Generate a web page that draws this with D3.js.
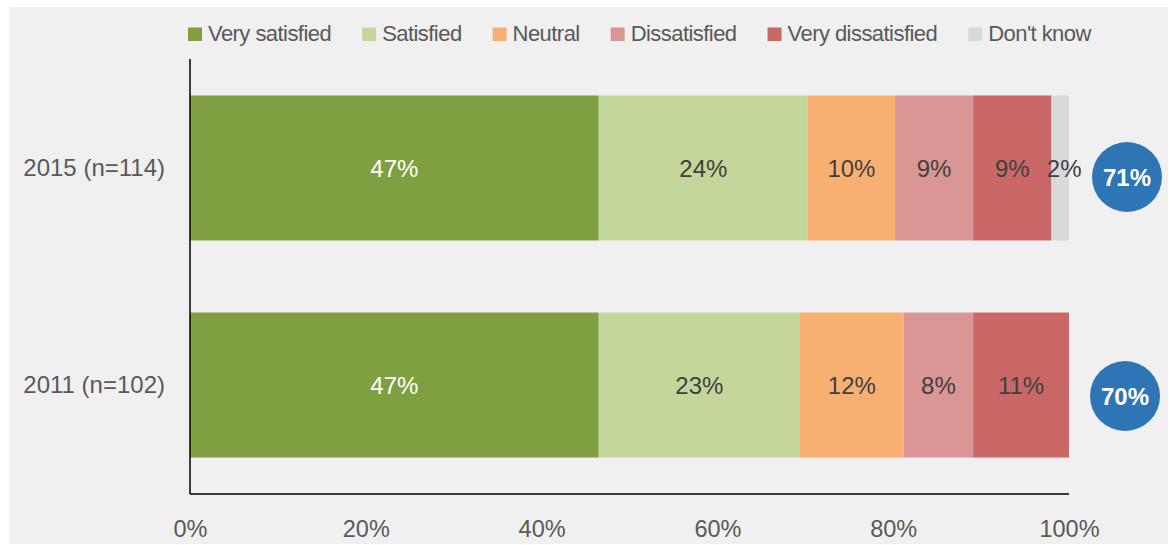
<!DOCTYPE html>
<html><head><meta charset="utf-8">
<script src="https://cdn.jsdelivr.net/npm/d3@7"></script>
<style>
html,body{margin:0;padding:0;background:#fff;}
svg{display:block;font-family:"Liberation Sans",Arial,sans-serif;}
</style></head>
<body><svg id="c" width="1169" height="545"></svg>
<script>
const categories = ["2015 (n=114)", "2011 (n=102)"];
const seriesNames = ["Very satisfied", "Satisfied", "Neutral", "Dissatisfied", "Very dissatisfied", "Don't know"];
const verySatisfied = [46.5, 46.5];
const satisfied = [23.8, 22.9];
const neutral = [9.9, 11.8];
const dissatisfied = [8.9, 7.9];
const veryDissatisfied = [8.9, 10.9];
const dontKnow = [2.0, 0];
const totalSatisfied = ["71%", "70%"];
const xTicks = [0, 20, 40, 60, 80, 100];
const colors = ["#7f9f40", "#c4d79b", "#f8b072", "#da9694", "#c96866", "#d9d9d9"];
const labelColors = ["#ffffff", "#404040", "#404040", "#404040", "#404040", "#404040"];

const series = [verySatisfied, satisfied, neutral, dissatisfied, veryDissatisfied, dontKnow];
const svg = d3.select("#c");
svg.append("rect").attr("x", 9).attr("y", 7).attr("width", 1159).attr("height", 537).attr("fill", "#f0f0f0");

const x = d3.scaleLinear().domain([0, 100]).range([190, 1069]);
const y = d3.scaleBand().domain(categories).range([59, 494]).paddingInner(0.332).paddingOuter(0.168);

const rows = categories.map((c, i) => {
  let acc = 0;
  return series.map((s, k) => { const v = s[i]; const seg = {cat: c, k, v, x0: acc, x1: acc + v}; acc += v; return seg; });
});

rows.forEach(segs => {
  const g = svg.append("g");
  segs.filter(d => d.v > 0).forEach(d => {
    g.append("rect").attr("x", x(d.x0)).attr("y", y(d.cat)).attr("width", x(d.x1) - x(d.x0))
      .attr("height", y.bandwidth()).attr("fill", colors[d.k]);
    g.append("text").attr("x", (x(d.x0) + x(d.x1)) / 2 + (d.k === 5 ? 4 : 0)).attr("y", y(d.cat) + y.bandwidth() / 2 + 9)
      .attr("text-anchor", "middle").attr("font-size", 24)
      .attr("fill", labelColors[d.k]).text(Math.round(d.v) + "%");
  });
});

// category labels
categories.forEach(c => {
  svg.append("text").attr("x", 165).attr("y", y(c) + y.bandwidth() / 2 + 8)
    .attr("text-anchor", "end").attr("font-size", 24).attr("fill", "#595959").text(c);
});

// axes lines
svg.append("line").attr("x1", 190).attr("x2", 190).attr("y1", 59).attr("y2", 494).attr("stroke", "#000").attr("stroke-width", 1.5);
svg.append("line").attr("x1", 190).attr("x2", 1069).attr("y1", 494).attr("y2", 494).attr("stroke", "#000").attr("stroke-width", 1.5);

// x axis ticks
const xa = svg.append("g").attr("transform", "translate(0,494)")
  .call(d3.axisBottom(x).tickValues(xTicks).tickSize(0).tickPadding(26).tickFormat(d => d + "%"));
xa.select(".domain").remove();
xa.selectAll("text").attr("font-size", 23.5).attr("fill", "#595959").attr("font-family", "Liberation Sans, Arial, sans-serif");

// circles
const circleCx = [1127, 1125];
const circleCy = [177, 396];
categories.forEach((c, i) => {
  svg.append("circle").attr("cx", circleCx[i]).attr("cy", circleCy[i]).attr("r", 35).attr("fill", "#2e75b6");
  svg.append("text").attr("x", circleCx[i]).attr("y", circleCy[i] + 8.5).attr("text-anchor", "middle")
    .attr("font-size", 24).attr("font-weight", "bold").attr("fill", "#fff").text(totalSatisfied[i]);
});

// legend
const legend = svg.append("g");
let lx = 188;
seriesNames.forEach((n, k) => {
  legend.append("rect").attr("x", lx).attr("y", 27.5).attr("width", 14).attr("height", 13.5).attr("fill", colors[k]);
  const t = legend.append("text").attr("x", lx + 20).attr("y", 40.7).attr("font-size", 22)
    .attr("letter-spacing", -0.55).attr("fill", "#595959").text(n);
  lx += 20 + t.node().getComputedTextLength() + 31;
});
</script></body></html>
